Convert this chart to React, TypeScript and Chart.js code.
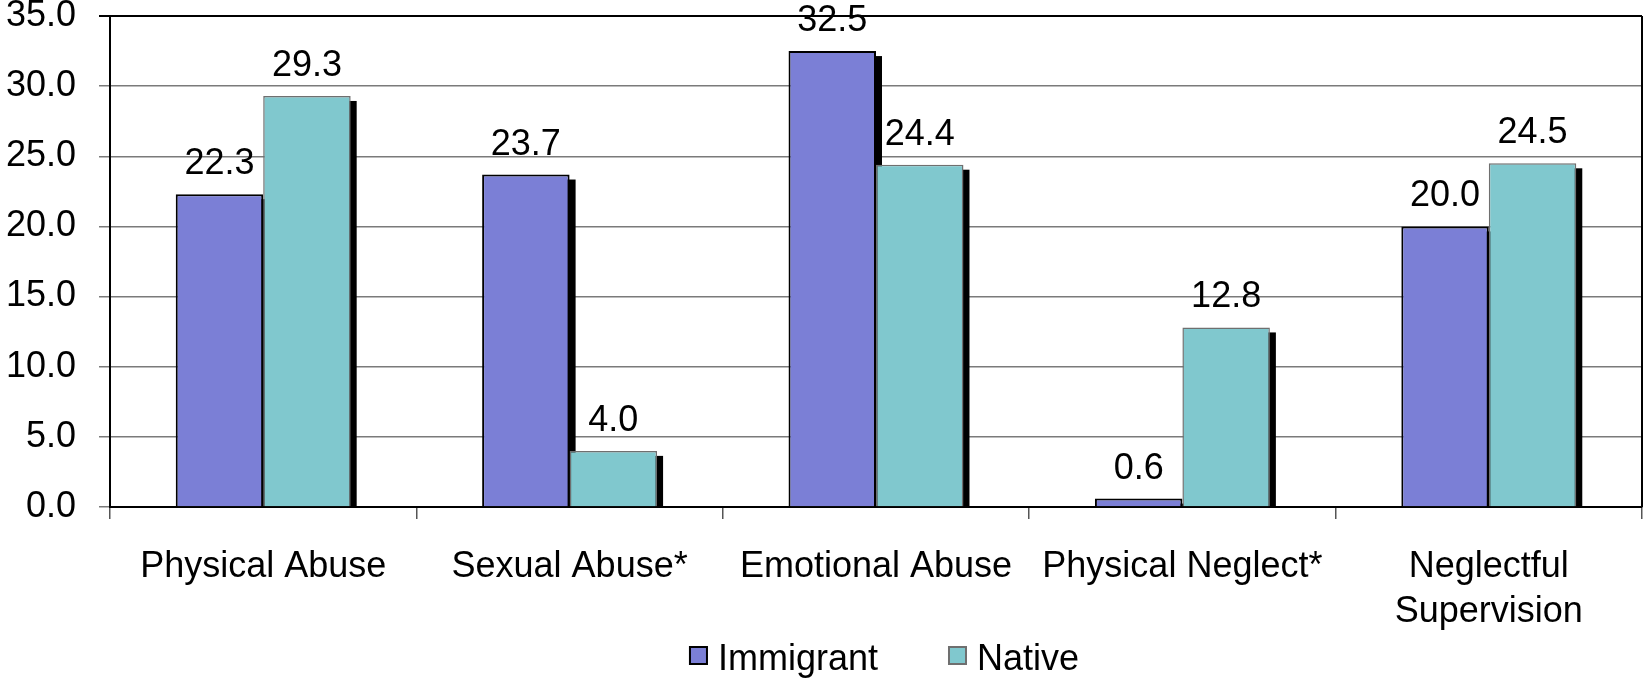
import React, { useEffect, useRef } from "react";
import { Chart, registerables } from "chart.js";

Chart.register(...registerables);

// Categories (multi-line where the label wraps)
const categories: (string | string[])[] = [
  "Physical Abuse",
  "Sexual Abuse*",
  "Emotional Abuse",
  "Physical Neglect*",
  ["Neglectful", "Supervision"],
];

const seriesNames = ["Immigrant", "Native"];
const immigrantValues = [22.3, 23.7, 32.5, 0.6, 20.0];
const nativeValues = [29.3, 4.0, 24.4, 12.8, 24.5];

const yMin = 0;
const yMax = 35;
const yStep = 5;

const FONT = '"Liberation Sans", Arial, sans-serif';
const FONT_SIZE = 36;

const fills = ["#7b7fd6", "#80c8ce"];
const edges = ["#000000", "#6f6f6f"];

// Drop shadows behind every bar (offset down-right), clipped to the plot area
const shadowPlugin = {
  id: "barShadows",
  beforeDatasetsDraw(chart: any) {
    const { ctx, chartArea } = chart;
    ctx.save();
    ctx.beginPath();
    ctx.rect(chartArea.left, chartArea.top, chartArea.right - chartArea.left, chartArea.bottom - chartArea.top);
    ctx.clip();
    ctx.fillStyle = "#000";
    const dx = 6;
    const dy = 5;
    chart.data.datasets.forEach((_ds: any, i: number) => {
      const meta = chart.getDatasetMeta(i);
      meta.data.forEach((el: any) => {
        const { x, y, base, width } = el.getProps(["x", "y", "base", "width"], true);
        ctx.fillRect(x - width / 2 + dx, y + dy, width, base - y);
      });
    });
    ctx.restore();
  },
};

// Value labels above the bars, plot border on the right, and the legend
const overlayPlugin = {
  id: "overlay",
  afterDatasetsDraw(chart: any) {
    const { ctx } = chart;
    ctx.save();
    ctx.font = `${FONT_SIZE}px ${FONT}`;
    ctx.fillStyle = "#000";
    ctx.textAlign = "center";
    ctx.textBaseline = "alphabetic";
    chart.data.datasets.forEach((ds: any, i: number) => {
      const meta = chart.getDatasetMeta(i);
      meta.data.forEach((el: any, j: number) => {
        const { x, y } = el.getProps(["x", "y"], true);
        ctx.fillText(Number(ds.data[j]).toFixed(1), x, y - 20);
      });
    });
    ctx.restore();
  },
  afterDraw(chart: any) {
    const { ctx, chartArea } = chart;
    ctx.save();
    // right edge of the plot frame
    ctx.strokeStyle = "#000";
    ctx.lineWidth = 2;
    ctx.beginPath();
    ctx.moveTo(chartArea.right, chartArea.top);
    ctx.lineTo(chartArea.right, chartArea.bottom);
    ctx.stroke();

    // legend
    ctx.font = `${FONT_SIZE}px ${FONT}`;
    ctx.textBaseline = "alphabetic";
    ctx.textAlign = "left";
    const box = 19;
    const gap = 10;
    const spacing = 70;
    const widths = chart.data.datasets.map((ds: any) => ctx.measureText(ds.label).width);
    let total = 0;
    widths.forEach((w: number, i: number) => {
      total += box + gap + w + (i > 0 ? spacing : 0);
    });
    let x = (chartArea.left + chartArea.right) / 2 - total / 2 + 8;
    const baseline = chart.height - 8;
    const boxTop = baseline - 24;
    chart.data.datasets.forEach((ds: any, i: number) => {
      ctx.fillStyle = ds.backgroundColor;
      ctx.fillRect(x, boxTop, box, box);
      ctx.strokeStyle = ds.borderColor;
      ctx.lineWidth = 2;
      ctx.strokeRect(x + 1, boxTop + 1, box - 2, box - 2);
      ctx.fillStyle = "#000";
      ctx.fillText(ds.label, x + box + gap, baseline);
      x += box + gap + widths[i] + spacing;
    });
    ctx.restore();
  },
};

export default function App() {
  const canvasRef = useRef<HTMLCanvasElement | null>(null);

  useEffect(() => {
    const canvas = canvasRef.current;
    if (!canvas) return;
    const chart = new Chart(canvas, {
      type: "bar",
      data: {
        labels: categories as any,
        datasets: [
          {
            label: seriesNames[0],
            data: immigrantValues,
            backgroundColor: fills[0],
            borderColor: edges[0],
            borderWidth: 2,
            categoryPercentage: 0.571,
            barPercentage: 1.0,
          },
          {
            label: seriesNames[1],
            data: nativeValues,
            backgroundColor: fills[1],
            borderColor: edges[1],
            borderWidth: 1.5,
            categoryPercentage: 0.571,
            barPercentage: 1.0,
          },
        ],
      },
      options: {
        responsive: false,
        animation: false,
        events: [],
        layout: { padding: { left: 0, top: 16, right: 4, bottom: 0 } },
        plugins: {
          legend: { display: false },
          tooltip: { enabled: false },
        },
        scales: {
          x: {
            grid: {
              offset: true,
              drawOnChartArea: false,
              drawTicks: true,
              tickLength: 12,
              color: "#555",
              lineWidth: 1.5,
            },
            border: { display: true, color: "#000", width: 2 },
            ticks: {
              font: { family: FONT, size: FONT_SIZE, lineHeight: 1.26 },
              color: "#000",
              padding: 25,
              maxRotation: 0,
              autoSkip: false,
            },
            afterFit(scale: any) {
              scale.height = 171;
              scale.paddingLeft = 0;
              scale.paddingRight = 0;
            },
          },
          y: {
            min: yMin,
            max: yMax,
            ticks: {
              stepSize: yStep,
              font: { family: FONT, size: FONT_SIZE },
              color: "#000",
              padding: 23,
              callback: (v: any) => Number(v).toFixed(1),
            },
            grid: {
              drawTicks: true,
              tickLength: 11,
              color: (c: any) => (c.tick && c.tick.value === yMax ? "#000" : "#7a7a7a"),
              lineWidth: (c: any) => (c.tick && c.tick.value === yMax ? 2 : 1.5),
            },
            border: { display: true, color: "#000", width: 2 },
            afterFit(scale: any) {
              scale.width = 110;
              scale.paddingTop = 0;
              scale.paddingBottom = 0;
            },
          },
        },
      },
      plugins: [shadowPlugin, overlayPlugin],
    });
    return () => chart.destroy();
  }, []);

  return (
    <div style={{ position: "absolute", left: 0, top: 0, width: 1646, height: 678, background: "#fff" }}>
      <canvas ref={canvasRef} width={1646} height={678} style={{ display: "block" }} />
    </div>
  );
}
